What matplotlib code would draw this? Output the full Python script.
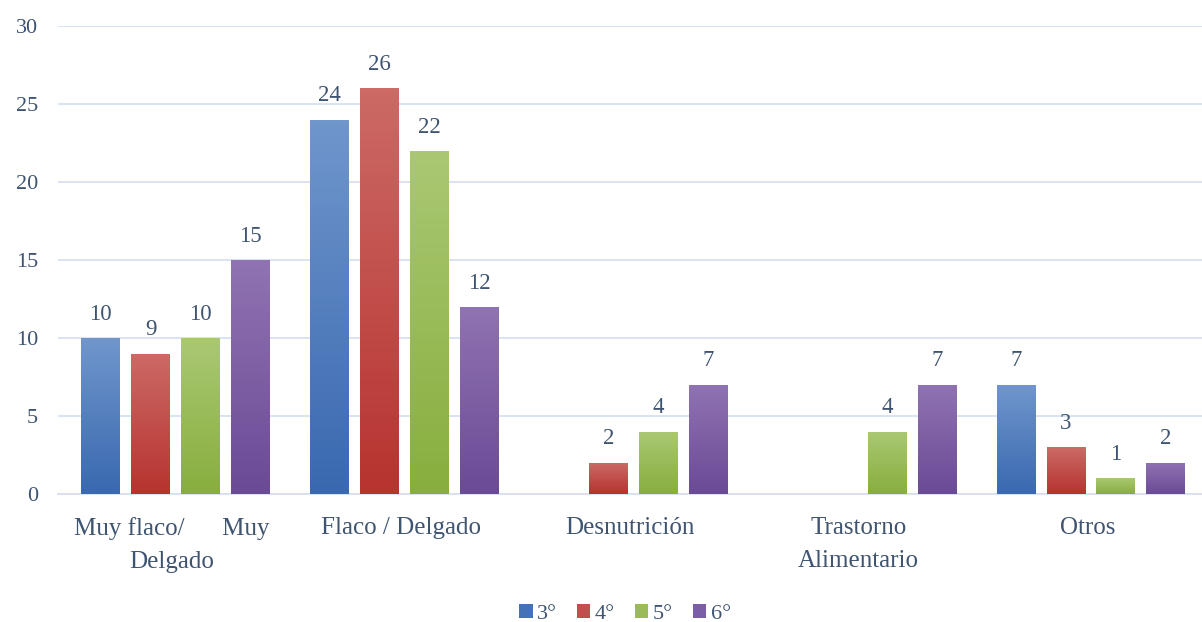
import numpy as np
import matplotlib.pyplot as plt
from matplotlib.colors import LinearSegmentedColormap
from matplotlib.patches import Patch

# datos
categorias = ["Muy flaco/      Muy\nDelgado", "Flaco / Delgado", "Desnutrición",
              "Trastorno\nAlimentario", "Otros"]
grados = ["3°", "4°", "5°", "6°"]
v3 = [10, 24, 0, 0, 7]
v4 = [9, 26, 2, 0, 3]
v5 = [10, 22, 4, 4, 1]
v6 = [15, 12, 7, 7, 2]
series = [v3, v4, v5, v6]

# colores (arriba, abajo) para el degradado
colores = [("#7096cc", "#3a69b0"), ("#cc6a66", "#b7332f"),
           ("#aac873", "#88ae3e"), ("#9073b2", "#6b4a96")]
base = ["#4372b8", "#c0504d", "#9bbb59", "#7c5ea6"]

texto = "#3f5470"
plt.rcParams['font.family'] = ['Liberation Serif', 'DejaVu Serif']

fig = plt.figure(figsize=(12.02, 6.22), dpi=100)
ax = fig.add_axes([0.048, 0.206, 0.952, 0.752])

x = np.arange(len(categorias))
ancho = 0.17
paso = 0.218
for i, vals in enumerate(series):
    cmap = LinearSegmentedColormap.from_list("g%d" % i, [colores[i][1], colores[i][0]])
    pos = x + (i - 1.5) * paso + 0.015
    bars = ax.bar(pos, vals, ancho, color=base[i], zorder=2)
    for b, v in zip(bars, vals):
        if v == 0:
            b.set_visible(False)
            continue
        x0, w = b.get_x(), b.get_width()
        grad = np.linspace(0, 1, 100).reshape(-1, 1)
        im = ax.imshow(grad, cmap=cmap, origin="lower", aspect="auto",
                       extent=[x0, x0 + w, 0, v], zorder=3)
        im.set_clip_path(b)
        ax.text(b.get_x() + w / 2, v + 0.85, str(v), ha="center", va="bottom",
                fontsize=16.5, color=texto, zorder=4)

ax.set_xlim(-0.5, 4.5)
ax.set_ylim(0, 30)
ax.set_yticks(range(0, 31, 5))
ax.set_xticks(x)
ax.set_xticklabels(categorias, fontsize=18, color=texto, linespacing=1.6)
ax.tick_params(axis="y", labelsize=16, labelcolor=texto, length=0, pad=14)
ax.tick_params(axis="x", length=0, pad=17)
ax.grid(axis="y", color="#d5e0f2", linewidth=1.3, zorder=0)
ax.set_axisbelow(True)
for s in ["top", "right", "left"]:
    ax.spines[s].set_visible(False)
ax.spines["bottom"].set_color("#d5e0f2")
ax.spines["bottom"].set_linewidth(1.3)

handles = [Patch(facecolor=c) for c in base]
fig.legend(handles, grados, loc="lower center", ncol=4, frameon=False,
           bbox_to_anchor=(0.52, -0.035), fontsize=16, labelcolor=texto,
           handlelength=0.6, handleheight=0.6, handletextpad=0.2, columnspacing=0.9)

fig.savefig("out.png", dpi=100)
